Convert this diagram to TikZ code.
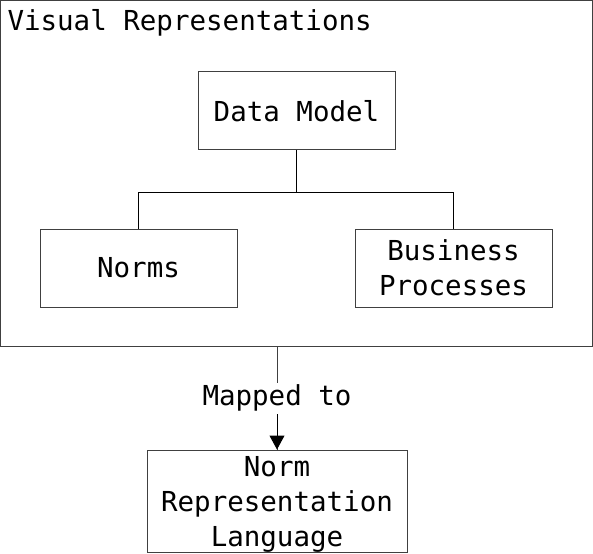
\documentclass[tikz,border=0pt]{standalone}
\usepackage{fontspec}
\setmonofont{DejaVu Sans Mono}
\usetikzlibrary{arrows.meta,positioning}

\begin{document}
\begin{tikzpicture}[
                    x=1pt,
                    y=-1pt,
                    >={Triangle[width=15pt,length=14pt]},
                    line width=1pt,
                    font=\ttfamily\fontsize{27.5}{35}\selectfont
                ]
                \tikzstyle{every box}=[draw=black!75,fill=white,text=black,align=center,inner sep=0pt,minimum width=197pt,minimum height=78pt]

                \useasboundingbox (0,0) rectangle (593,553);

                \node[draw=black!75,minimum width=592pt,minimum height=346pt,inner sep=0pt] (VR) at (296,173.5) {};
                \node[anchor=base west,inner sep=0pt] (VRt) at (7,31) {Visual Representations};

                \node[every box] (DM) at (296.5,111) {Data Model};
                \node[every box] (N) at (138.5,268) {Norms};
                \node[every box] (BP) at (453.5,268) {Business\\Processes};
                \node[every box,minimum width=260pt,minimum height=102pt] (NRL) at (277,501) {\rule{0pt}{26pt}Norm\\Representation\\Language};

                \coordinate (J) at ([yshift=-42pt]DM.south);
                \draw (DM.south) -- (J);
                \draw (J) -| (N.north);
                \draw (J) -| (BP.north);

                \draw[black!75] (NRL.north |- VR.south) -- (NRL.north)
                    node[midway,fill=white,text=black,inner sep=2pt] (M) {Mapped to};
                \draw[->] (M.south) -- (NRL.north);

            \end{tikzpicture}
\end{document}
